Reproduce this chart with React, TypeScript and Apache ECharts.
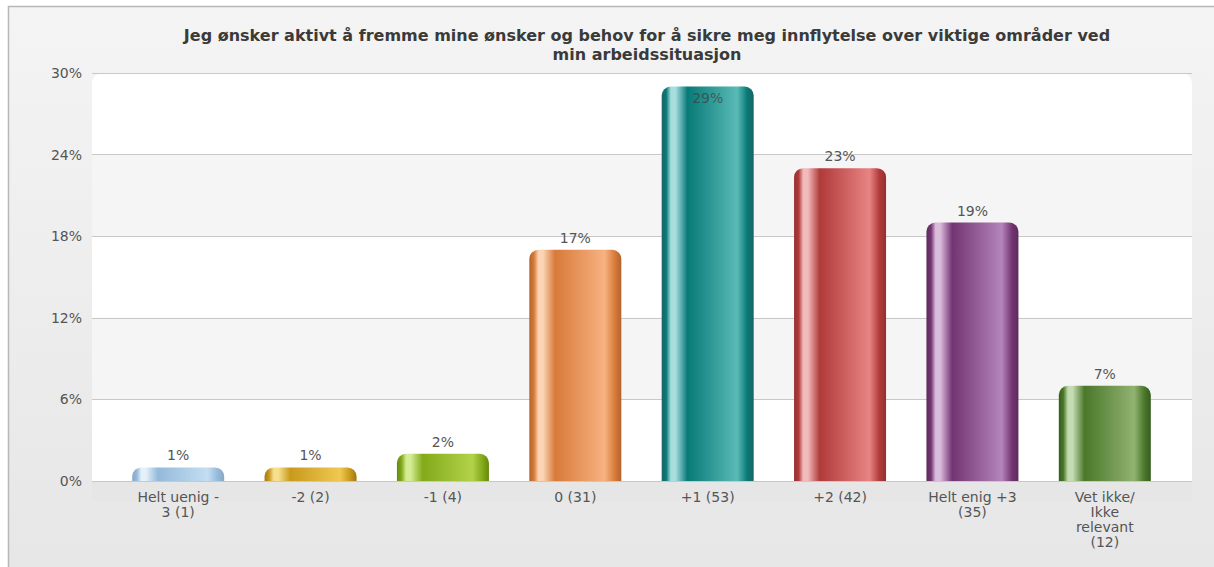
import React, { useEffect, useRef } from "react";
import * as echarts from "echarts";

const titleText =
  "Jeg ønsker aktivt å fremme mine ønsker og behov for å sikre meg innflytelse over viktige områder ved\nmin arbeidssituasjon";
const categories = [
  "Helt uenig -\n3 (1)",
  "-2 (2)",
  "-1 (4)",
  "0 (31)",
  "+1 (53)",
  "+2 (42)",
  "Helt enig +3\n(35)",
  "Vet ikke/\nIkke\nrelevant\n(12)",
];
const values = [1, 1, 2, 17, 29, 23, 19, 7];
const yTicks = [0, 6, 12, 18, 24, 30];

// [edge, highlight, dark, light]
const barColors = [
  ["#8aa8c6", "#e4f0fa", "#94bada", "#c4def2"],
  ["#a07812", "#f6e08e", "#c89a1c", "#f0c852"],
  ["#66880e", "#d4ec94", "#82aa1a", "#b2d24a"],
  ["#b06430", "#fad4b4", "#d87a3a", "#f8b282"],
  ["#1c6464", "#a8dede", "#087a78", "#5abab6"],
  ["#943030", "#f2baba", "#b03a3a", "#e88484"],
  ["#5c2c5c", "#dcbcdc", "#723472", "#b484bc"],
  ["#365c1e", "#c4dcb2", "#4a782a", "#92b272"],
];

function grad(c: string[]) {
  return new echarts.graphic.LinearGradient(0, 0, 1, 0, [
    { offset: 0, color: c[0] },
    { offset: 0.05, color: c[2] },
    { offset: 0.1, color: c[1] },
    { offset: 0.15, color: c[1] },
    { offset: 0.28, color: c[2] },
    { offset: 0.82, color: c[3] },
    { offset: 0.93, color: c[2] },
    { offset: 1, color: c[0] },
  ]);
}

export default function App() {
  const ref = useRef<HTMLDivElement>(null);
  useEffect(() => {
    document.body.style.margin = "0";
    const chart = echarts.init(ref.current!, null, { renderer: "svg" });
    const font = "DejaVu Sans, Verdana, sans-serif";
    chart.setOption({
      animation: false,
      textStyle: { fontFamily: font },
      title: {
        text: titleText,
        left: 642,
        top: 21,
        textAlign: "center",
        textStyle: {
          fontSize: 16,
          fontWeight: "bold",
          color: "#3a3a3a",
          lineHeight: 19,
          fontFamily: font,
        },
      },
      graphic: [
        {
          type: "rect",
          z: -20,
          silent: true,
          shape: { x: 8.5, y: 6.5, width: 1220, height: 580 },
          style: {
            fill: new echarts.graphic.LinearGradient(0, 0, 0, 1, [
              { offset: 0, color: "#f4f4f4" },
              { offset: 1, color: "#e6e6e6" },
            ]),
            stroke: "#b8b8b8",
            lineWidth: 1.5,
          },
        },
        {
          type: "rect",
          z: -10,
          silent: true,
          shape: { x: 92, y: 73, width: 1100, height: 420, r: [10, 10, 0, 0] },
          style: { fill: "#ffffff" },
        },
        {
          type: "rect",
          z: -9,
          silent: true,
          shape: { x: 92, y: 481, width: 1100, height: 20 },
          style: { fill: "#e6e6e6" },
        },
      ],
      grid: [
        { left: 92, right: 22, top: 73, bottom: 86 },
        { left: 112, right: 43, top: 73, bottom: 86 },
      ],
      xAxis: [
        { type: "category", gridIndex: 0, data: categories, show: false },
        {
          type: "category",
          gridIndex: 1,
          data: categories,
          axisLine: { show: false },
          axisTick: { show: false },
          axisLabel: {
            interval: 0,
            color: "#555",
            fontSize: 14,
            lineHeight: 15,
            margin: 8,
            fontFamily: font,
          },
        },
      ],
      yAxis: [
        {
          type: "value",
          gridIndex: 0,
          min: 0,
          max: 30,
          interval: 6,
          axisLine: { show: false },
          axisTick: { show: false },
          axisLabel: {
            color: "#555",
            fontSize: 14,
            margin: 10,
            formatter: (v: number) => (yTicks.includes(v) ? v + "%" : ""),
            fontFamily: font,
          },
          splitLine: { show: true, lineStyle: { color: "#c8c8c8", width: 1 } },
          splitArea: {
            show: true,
            areaStyle: { color: ["rgba(0,0,0,0)", "#f5f5f5"] },
          },
        },
        {
          type: "value",
          gridIndex: 1,
          min: 0,
          max: 30,
          interval: 6,
          show: false,
          splitLine: { show: false },
        },
      ],
      series: [
        {
          type: "bar",
          xAxisIndex: 1,
          yAxisIndex: 1,
          barWidth: 92,
          data: values.map((v, i) => ({
            value: v,
            itemStyle: {
              color: grad(barColors[i]),
              borderRadius: [9, 9, 0, 0],
            },
            label:
              v >= 29
                ? { position: "insideTop", distance: 4, color: "rgba(60,60,60,0.7)" }
                : undefined,
          })),
          label: {
            show: true,
            position: "top",
            distance: 5,
            color: "#555",
            fontSize: 14,
            fontFamily: font,
            formatter: "{c}%",
          },
        },
      ],
    });
    return () => chart.dispose();
  }, []);
  return <div ref={ref} style={{ width: 1214, height: 567 }} />;
}
